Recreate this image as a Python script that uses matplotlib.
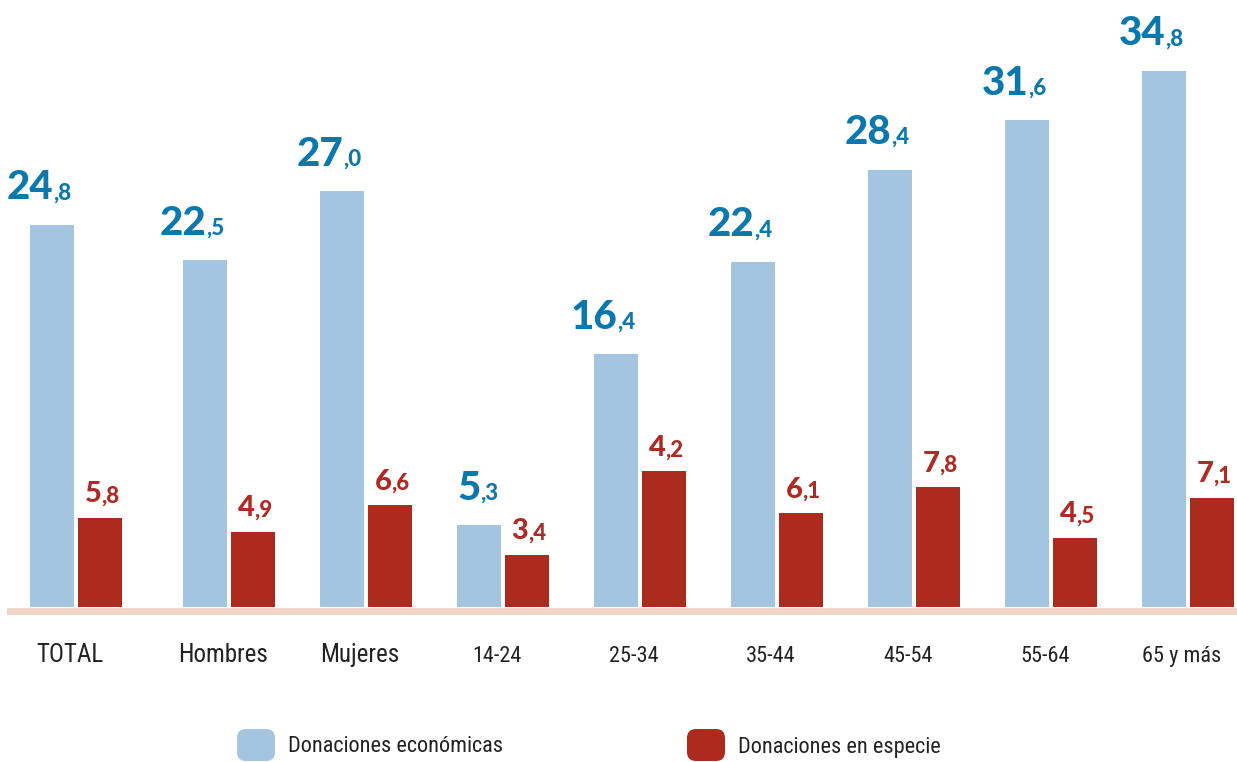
import numpy as np
import matplotlib.pyplot as plt
from matplotlib import font_manager as fm
from matplotlib.patches import FancyBboxPatch
from matplotlib.transforms import IdentityTransform

categorias = ["TOTAL", "Hombres", "Mujeres", "14-24", "25-34", "35-44", "45-54", "55-64", "65 y más"]
economicas = [24.8, 22.5, 27.0, 5.3, 16.4, 22.4, 28.4, 31.6, 34.8]
especie = [5.8, 4.9, 6.6, 3.4, 4.2, 6.1, 7.8, 4.5, 7.1]
# altura dibujada de las barras rojas (la de 25-34 no coincide con su etiqueta en el original)
especie_barra = [5.8, 4.9, 6.6, 3.4, 8.8, 6.1, 7.8, 4.5, 7.1]

azul_barra = '#a4c5df'
rojo_barra = '#ad2a1f'
azul_texto = '#0a78ad'
rojo_texto = '#ae2a22'
gris_texto = '#222222'

# pick a narrow font if one is installed
disponibles = {(f.name, f.stretch) for f in fm.fontManager.ttflist}
nombres = {n for n, s in disponibles}
if 'Liberation Sans Narrow' in nombres:
    estrecha = dict(family='Liberation Sans Narrow')
    tam_cat, tam_edad, tam_ley = 18.5, 16, 16
elif 'Roboto Condensed' in nombres:
    estrecha = dict(family='Roboto Condensed')
    tam_cat, tam_edad, tam_ley = 18, 16, 16
elif ('DejaVu Sans', 'condensed') in disponibles:
    estrecha = dict(family='DejaVu Sans', stretch='condensed')
    tam_cat, tam_edad, tam_ley = 17, 14.5, 14
else:
    estrecha = dict(family='DejaVu Sans')
    tam_cat, tam_edad, tam_ley = 15, 13, 12.5

W, H = 1237, 762
base_px = 607          # baseline, pixels from top
px_unidad = 15.4       # pixels per unit
paso = 137             # pixels between groups

fig = plt.figure(figsize=(W / 100, H / 100), dpi=100)
ax = fig.add_axes([0, 0, 1, 1])
ax.set_xlim(-76 / paso, (W - 76) / paso)
ax.set_ylim(-(H - base_px) / px_unidad, base_px / px_unidad)
ax.axis('off')

idx = np.arange(len(categorias))
centros = idx + (idx > 0) * 16 / paso
ancho = 44 / paso
desp = 24 / paso

ax.bar(centros - desp, economicas, width=ancho, color=azul_barra, zorder=2)
ax.bar(centros + desp, especie_barra, width=ancho, color=rojo_barra, zorder=2)

# baseline
ax.axhline(-4 / px_unidad, xmin=10 / W, xmax=1, color='#efd5c7', linewidth=5, zorder=1)


def etiqueta(x, h, valor, color, tam_ent, off):
    ent, dec = f"{valor:.1f}".split('.')
    ax.annotate(ent, (x, h), xytext=(1, off), textcoords='offset points',
                ha='right', va='baseline', fontsize=tam_ent, fontfamily='Lato',
                fontweight=900, color=color)
    ax.annotate(',' + dec, (x, h), xytext=(0.5, off), textcoords='offset points',
                ha='left', va='baseline', fontsize=16, fontfamily='Lato',
                fontweight=900, color=color)


for i in idx:
    etiqueta(centros[i] - desp, economicas[i], economicas[i], azul_texto, 29, 18.5)
    etiqueta(centros[i] + desp, especie_barra[i], especie[i], rojo_texto, 21, 11)

# category labels
y_cat = (base_px - 662) / px_unidad
for i, cat in enumerate(categorias):
    tam = tam_cat if i < 3 else tam_edad
    ax.text(centros[i] - 6 / paso, y_cat, cat, ha='center', va='baseline', fontsize=tam,
            color=gris_texto, **estrecha)

# legend
leyenda = [("Donaciones económicas", azul_barra, 237), ("Donaciones en especie", rojo_barra, 687)]
for texto, color, x0 in leyenda:
    caja = FancyBboxPatch((x0, H - 761), 38, 32, boxstyle='round,pad=0,rounding_size=9',
                          facecolor=color, edgecolor='none', transform=IdentityTransform())
    fig.patches.append(caja)
    fig.text((x0 + 51) / W, (H - 747) / H, texto, ha='left', va='center', fontsize=tam_ley,
             color=gris_texto, **estrecha)

fig.savefig('out.png', dpi=100)
